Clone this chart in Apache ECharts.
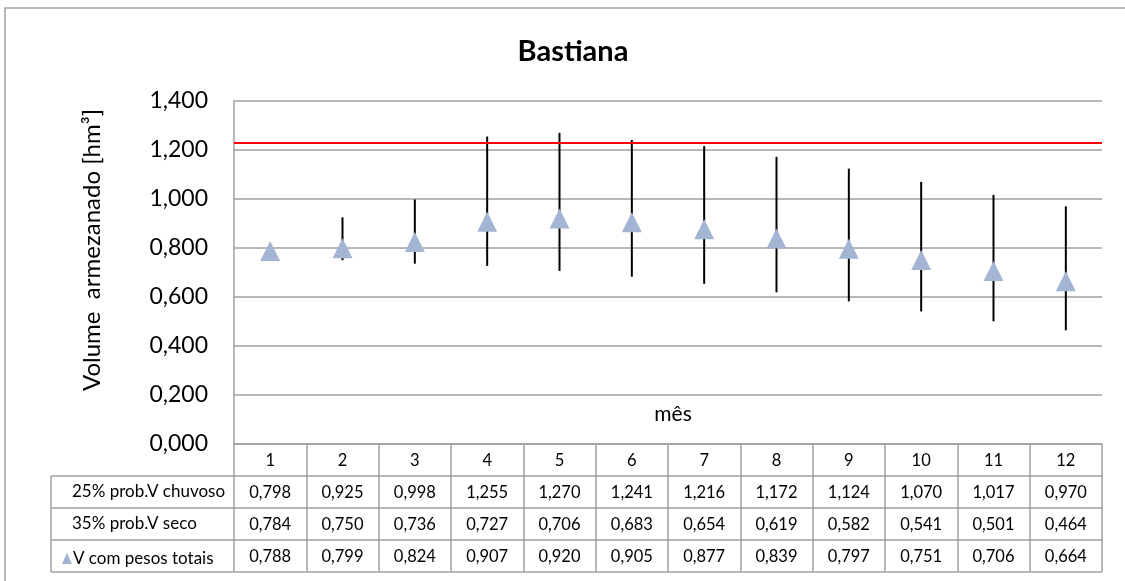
<!DOCTYPE html>
<html>
<head>
<meta charset="utf-8">
<script src="https://cdn.jsdelivr.net/npm/echarts@6/dist/echarts.min.js"></script>
<style>html,body{margin:0;padding:0;background:#fff}#c{width:1125px;height:581px}</style>
</head>
<body>
<div id="c"></div>
<script>
const months = ['1','2','3','4','5','6','7','8','9','10','11','12'];
const chuvoso = [0.798,0.925,0.998,1.255,1.270,1.241,1.216,1.172,1.124,1.070,1.017,0.970];
const seco = [0.784,0.750,0.736,0.727,0.706,0.683,0.654,0.619,0.582,0.541,0.501,0.464];
const pesos = [0.788,0.799,0.824,0.907,0.920,0.905,0.877,0.839,0.797,0.751,0.706,0.664];
const refLevel = 1.226;
const yTicks = {min:0, max:1.4, interval:0.2};
const rowNames = ['25% prob.V chuvoso','35% prob.V seco','V com pesos totais'];
const titleText = 'Bastiana';
const yName = 'Volume  armezanado [hm³]';
const xName = 'mês';

const fmt = v => v.toFixed(3).replace('.', ',');
const FONT = 'Lato, "Open Sans", sans-serif';
const GRAY = '#a0a0a0';
const L = 234, R = 1102, T = 101, B = 444, ROW = 32;
const TFS = 16.5;

const chart = echarts.init(document.getElementById('c'), null, {renderer:'canvas'});

function tableAxis(data, idx, extra) {
  return Object.assign({
    type:'category', data:data, position:'bottom', offset: idx*ROW,
    boundaryGap:true,
    axisLine:{show:true, lineStyle:{color:GRAY, width:1.5}},
    axisTick:{show:true, interval:0, length:ROW, lineStyle:{color:GRAY, width:1.5}},
    axisLabel:{show:true, interval:0, margin:8, fontSize:TFS, color:'#000', fontFamily:FONT},
    splitLine:{show:false}
  }, extra||{});
}

const option = {
  backgroundColor:'#fff',
  animation:false,
  title:{text:titleText, left:568, top:32, textAlign:'center',
    textStyle:{fontFamily:FONT, fontSize:29, fontWeight:'bold', color:'#000'}},
  grid:{left:L, right:1125-R, top:T, bottom:581-B, containLabel:false},
  legend:{data:[rowNames[2]], left:57, top:545, icon:'triangle', itemWidth:10, itemHeight:11, itemGap:0,
    textStyle:{fontFamily:FONT, fontSize:17, color:'#000', padding:[0,0,0,-4]}},
  xAxis:[
    tableAxis(months, 0, {name:xName, nameLocation:'middle', nameGap:-40,
      nameTextStyle:{fontFamily:FONT, fontSize:21, color:'#000', padding:[0,0,0,10]}}),
    tableAxis(chuvoso.map(fmt), 1),
    tableAxis(seco.map(fmt), 2),
    tableAxis(pesos.map(fmt), 3)
  ],
  yAxis:{type:'value', min:yTicks.min, max:yTicks.max, interval:yTicks.interval,
    axisLine:{show:true, lineStyle:{color:GRAY, width:1.5}},
    axisTick:{show:false},
    axisLabel:{fontFamily:FONT, fontSize:23, color:'#000', margin:26, formatter:v=>fmt(v)},
    splitLine:{show:true, lineStyle:{color:GRAY, width:1.5}}
  },
  series:[
    {
      name:'barras', type:'custom', xAxisIndex:0, z:3,
      data: months.map((m,i)=>[i, seco[i], chuvoso[i]]),
      renderItem:function(params, api){
        const lo = api.coord([api.value(0), api.value(1)]);
        const hi = api.coord([api.value(0), api.value(2)]);
        return {type:'line', shape:{x1:lo[0], y1:lo[1], x2:hi[0], y2:hi[1]},
          style:{stroke:'#000', lineWidth:2}};
      },
      markLine:{silent:true, symbol:['none','none'], label:{show:false},
        lineStyle:{color:'#ff0000', width:2, type:'solid'},
        data:[{yAxis:refLevel}]}
    },
    {
      name:rowNames[2], type:'scatter', xAxisIndex:0, z:5,
      symbol:'triangle', symbolSize:[20,20],
      itemStyle:{color:'#a4b5d3', opacity:1},
      data:pesos
    }
  ],
  graphic:[
    {type:'rect', shape:{x:5, y:8, width:1300, height:800}, style:{fill:'none', stroke:GRAY, lineWidth:1.5}, silent:true},
    {type:'line', shape:{x1:51, y1:B+ROW, x2:L, y2:B+ROW}, style:{stroke:GRAY, lineWidth:1.5}},
    {type:'line', shape:{x1:51, y1:B+2*ROW, x2:L, y2:B+2*ROW}, style:{stroke:GRAY, lineWidth:1.5}},
    {type:'line', shape:{x1:51, y1:B+3*ROW, x2:L, y2:B+3*ROW}, style:{stroke:GRAY, lineWidth:1.5}},
    {type:'line', shape:{x1:51, y1:B+4*ROW, x2:R, y2:B+4*ROW}, style:{stroke:GRAY, lineWidth:1.5}},
    {type:'line', shape:{x1:51, y1:B+ROW, x2:51, y2:B+4*ROW}, style:{stroke:GRAY, lineWidth:1.5}},
    {type:'text', x:72, y:B+ROW+16, style:{text:rowNames[0], fontFamily:FONT, fontSize:17, fill:'#000', textVerticalAlign:'middle'}},
    {type:'text', x:72, y:B+2*ROW+16, style:{text:rowNames[1], fontFamily:FONT, fontSize:17, fill:'#000', textVerticalAlign:'middle'}},
    {type:'text', x:92, y:250, rotation:Math.PI/2, style:{text:yName, fontFamily:FONT, fontSize:24, fill:'#000', textAlign:'center', textVerticalAlign:'middle'}}
  ]
};
chart.setOption(option);
</script>
</body>
</html>
